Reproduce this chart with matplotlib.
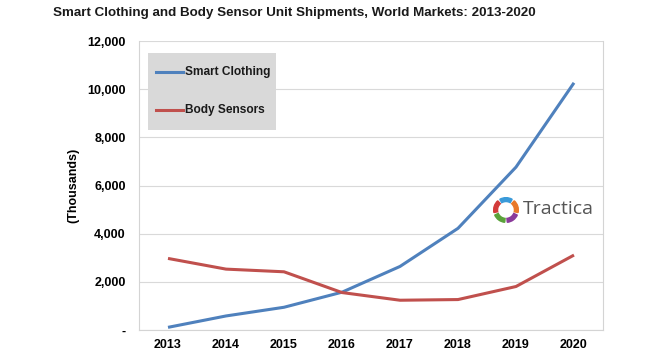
import matplotlib
matplotlib.use("Agg")
import matplotlib.pyplot as plt
from matplotlib.patches import Wedge, Rectangle
from matplotlib.lines import Line2D
import numpy as np

years = ["2013", "2014", "2015", "2016", "2017", "2018", "2019", "2020"]
smart_clothing = [110, 583, 944, 1570, 2639, 4222, 6764, 10264]
body_sensors = [2972, 2528, 2417, 1555, 1236, 1264, 1806, 3111]
yticks = [0, 2000, 4000, 6000, 8000, 10000, 12000]
ytick_labels = ["-", "2,000", "4,000", "6,000", "8,000", "10,000", "12,000"]
series_names = ["Smart Clothing", "Body Sensors"]
series_colors = ["#4f81bd", "#c0504d"]

plt.rcParams['font.family'] = ['Liberation Sans', 'DejaVu Sans']

W, H = 668, 356
fig = plt.figure(figsize=(W / 100, H / 100), dpi=100)
L, R, T, B = 139, 603, 41, 330
ax = fig.add_axes([L / W, 1 - B / H, (R - L) / W, (B - T) / H])

x = np.arange(len(years))
for vals, name, col in zip([smart_clothing, body_sensors], series_names, series_colors):
    ax.plot(x, vals, color=col, lw=2.2, label=name, solid_capstyle="butt", solid_joinstyle="round")

ax.set_xlim(-0.5, len(years) - 0.5)
ax.set_ylim(0, 12000)
ax.set_xticks(x)
ax.set_xticklabels(years, fontsize=9, fontweight="bold")
ax.set_yticks(yticks)
ax.set_yticklabels(ytick_labels, fontsize=9, fontweight="bold")
ax.tick_params(length=0)
ax.tick_params(axis="y", pad=9.5)
ax.tick_params(axis="x", pad=6.5)
ax.grid(axis="y", color="#d9d9d9", lw=0.8)
ax.set_axisbelow(True)
for s in ["left", "right", "bottom"]:
    ax.spines[s].set_color("#d4d4d4")
    ax.spines[s].set_linewidth(0.8)
ax.spines["top"].set_visible(False)

ax.set_ylabel("(Thousands)", fontsize=9, fontweight="bold", labelpad=6)

fig.text(53 / W, 1 - 13 / H, "Smart Clothing and Body Sensor Unit Shipments, World Markets: 2013-2020",
         fontsize=9.6, fontweight="bold", va="center", ha="left", color="#1a1a1a")

# Legend box (drawn in figure pixel coordinates)
def fx(px):
    return px / W

def fy(py):
    return 1 - py / H

fig.patches.append(Rectangle((fx(148), fy(130)), (276 - 148) / W, (130 - 53) / H,
                             transform=fig.transFigure, facecolor="#d9d9d9", edgecolor="none", zorder=5))
for yy, name, col in zip([72, 110], series_names, series_colors):
    fig.lines.append(Line2D([fx(156), fx(183)], [fy(yy), fy(yy)], transform=fig.transFigure,
                            color=col, lw=2.2, zorder=6))
    fig.text(fx(185), fy(yy), name, fontsize=8.6, fontweight="bold", va="center", ha="left",
             color="#1a1a1a", zorder=7)

# Tractica logo
lax = fig.add_axes([(506 - 13) / W, 1 - (210 + 13) / H, 26 / W, 26 / H])
lax.set_xlim(-1, 1); lax.set_ylim(-1, 1); lax.set_aspect("equal"); lax.axis("off")
logo_cols = ["#3a9ad9", "#e8782a", "#8a3a9a", "#5aa23a", "#d23a3a"]
centers = [90, 18, -54, -126, 162]
for c, ang in zip(logo_cols, centers):
    lax.add_patch(Wedge((0, 0), 0.95, ang - 30, ang + 30, width=0.3, color=c))
fig.text(523 / W, 1 - 209.5 / H, "Tractica", fontsize=14, color="#555555", va="center", ha="left",
         family=["Open Sans", "DejaVu Sans"])

fig.savefig("out.png", dpi=100)
